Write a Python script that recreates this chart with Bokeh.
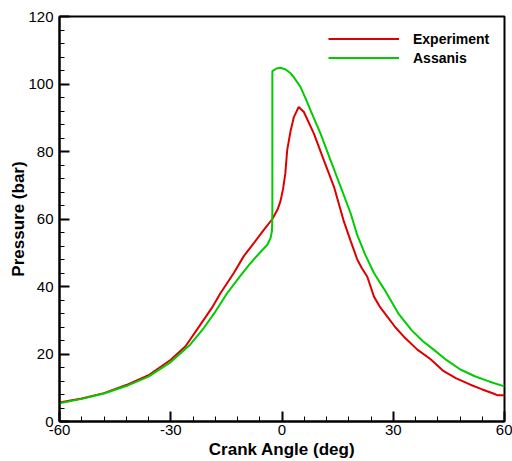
from bokeh.plotting import figure
from bokeh.models import FixedTicker, Legend, LegendItem
from bokeh.embed import file_html
from bokeh.resources import INLINE

# Experiment (red)
exp_angle = [-60, -54, -48, -42, -36, -30, -26, -22, -19, -16.6, -13, -10.3, -7.5, -4.9, -2.6,
             -1.2, -0.4, 0.3, 0.9, 1.4, 2.3, 3.2, 4.5, 5.9, 8.6, 11.3, 14, 16.7, 18.5, 20.3,
             21.5, 23, 24.8, 26.5, 28.4, 30.5, 32.8, 36.5, 40, 43.6, 47, 50.8, 54, 57, 58, 60]
exp_pressure = [5.6, 6.8, 8.4, 10.8, 13.7, 18.3, 22.3, 28.7, 33.5, 38.0, 44.0, 49.0, 53.0, 56.8,
                60.0, 62.8, 65.3, 69, 73.5, 80.4, 86, 90.2, 93.2, 91.7, 85.3, 77.4, 69.6, 59.2,
                53.5, 48.0, 45.5, 42.9, 37.0, 33.8, 31.1, 28.0, 25.2, 21.3, 18.5, 14.9, 12.8,
                10.9, 9.5, 8.3, 7.8, 7.8]

# Assanis model (green)
mod_angle = [-60, -54, -48, -42, -36, -30, -25, -21.1, -18, -14.8, -11.5, -8.5, -6, -4.0, -3.1,
             -2.7, -2.6, -2.6, -1.5, -0.4, 1, 2.3, 3.5, 5, 6.3, 7.7, 10.4, 13.1, 15.8, 18.5,
             20.3, 22.5, 24.8, 27.5, 29, 31.5, 35, 38, 40.9, 44, 48.1, 52, 56, 60]
mod_pressure = [5.4, 6.7, 8.3, 10.5, 13.3, 17.6, 22.5, 27.7, 32.5, 38.0, 42.8, 46.9, 50.0, 52.3,
                54.3, 56.5, 62, 103.8, 104.6, 104.8, 104.3, 103.2, 101.5, 99.1, 95.9, 92.2,
                85.3, 77.4, 69.6, 61.7, 55.2, 49.3, 44.0, 39.3, 36.5, 31.8, 27.0, 23.8, 21.3,
                18.5, 15.4, 13.4, 11.8, 10.4]

x_major = [-60, -30, 0, 30, 60]
x_labels = ["-60", "-30", "0", "30", "60"]
x_minor = list(range(-60, 61, 6))
y_major = [0, 20, 40, 60, 80, 100, 120]
y_labels = ["0", "20", "40", "60", "80", "100", "120"]
y_minor = list(range(0, 121, 4))

FONT = "Liberation Sans"

p = figure(width=512, height=461, output_backend="svg", toolbar_location=None,
           x_range=(-60, 60), y_range=(0, 120),
           min_border_left=59, min_border_right=8, min_border_top=16, min_border_bottom=39)
p.background_fill_color = "white"
p.border_fill_color = "white"
p.xgrid.visible = False
p.ygrid.visible = False
p.outline_line_color = "black"
p.outline_line_width = 2

r1 = p.line(exp_angle, exp_pressure, line_color="#dd0000", line_width=2)
r2 = p.line(mod_angle, mod_pressure, line_color="#00cc00", line_width=2)

p.xaxis.ticker = FixedTicker(ticks=x_major, minor_ticks=x_minor)
p.yaxis.ticker = FixedTicker(ticks=y_major, minor_ticks=y_minor)
p.xaxis.major_label_overrides = dict(zip(x_major, x_labels))
p.yaxis.major_label_overrides = dict(zip(y_major, y_labels))
p.xaxis.axis_label = "Crank Angle (deg)"
p.yaxis.axis_label = "Pressure (bar)"
for ax in (p.xaxis, p.yaxis):
    ax.axis_line_width = 2
    ax.axis_line_color = "black"
    ax.major_tick_in = 10
    ax.major_tick_out = 0
    ax.minor_tick_in = 5
    ax.minor_tick_out = 0
    ax.major_tick_line_width = 2
    ax.minor_tick_line_width = 1
    ax.major_label_text_font = FONT
    ax.major_label_text_font_size = "15px"
    ax.major_label_text_color = "black"
    ax.axis_label_text_font = FONT
    ax.axis_label_text_font_size = "17px"
    ax.axis_label_text_font_style = "bold"
    ax.axis_label_text_color = "black"
p.xaxis.major_label_standoff = 3
p.xaxis.axis_label_standoff = 2
p.yaxis.major_label_standoff = 6
p.yaxis.axis_label_standoff = -3

legend = Legend(items=[LegendItem(label="Experiment", renderers=[r1]),
                       LegendItem(label="Assanis", renderers=[r2])],
                location=(269, 354))
legend.border_line_color = None
legend.background_fill_alpha = 0
legend.padding = 5
legend.spacing = 0
legend.margin = 0
legend.glyph_width = 71
legend.glyph_height = 19
legend.label_height = 19
legend.label_standoff = 14
legend.label_text_font = FONT
legend.label_text_font_size = "14px"
legend.label_text_font_style = "bold"
legend.label_text_color = "black"
p.add_layout(legend)

open("out.html", "w").write(file_html(p, INLINE))
